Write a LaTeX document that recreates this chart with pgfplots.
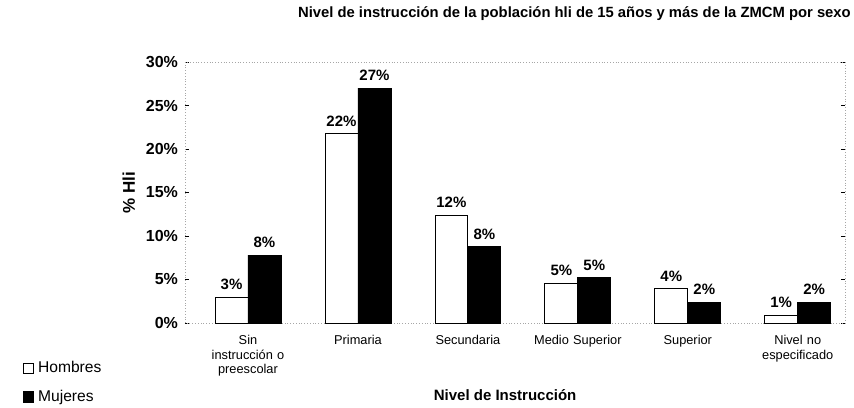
\documentclass[border=0pt]{standalone}
\usepackage{pgfplots}
\pgfplotsset{compat=1.18}
\usepackage{fontspec}
\setmainfont{Liberation Sans}
\begin{document}
\begin{tikzpicture}[x=1pt,y=1pt]
\useasboundingbox (-92.5,-42) rectangle (334.5,161.5);
\begin{axis}[
  at={(0,0)}, anchor=south west,
  scale only axis, width=330pt, height=130.5pt,
  xmin=-0.573, xmax=5.43, ymin=0, ymax=30,
  ybar=0pt, bar width=0.3,
  xtick={0,1,2,3,4,5},
  xticklabels={Sin\\instrucción o\\preescolar, Primaria, Secundaria, Medio Superior, Superior, Nivel no\\especificado},
  xticklabel style={font=\fontsize{6.4}{7.4}\selectfont, align=center, text width=58pt, yshift=-0.5pt},
  major x tick style={draw=none},
  ytick={0,5,...,30},
  yticklabel={\pgfmathprintnumber{\tick}\%},
  yticklabel style={font=\fontsize{8}{9}\selectfont\bfseries},
  /pgf/number format/assume math mode=true,
  ytick style={black, thin},
  major tick length=2pt,
  axis line style={densely dotted, gray!70, thin},
  ylabel={\% Hli}, ylabel style={font=\fontsize{8.5}{10}\selectfont\bfseries, at={(rel axis cs:-0.085,0.5)}, anchor=center},
  xlabel={Nivel de Instrucción}, xlabel style={font=\fontsize{7.5}{9}\selectfont\bfseries, at={(rel axis cs:0.485,-0.275)}, anchor=center},
  title={Nivel de instrucción de la población hli de 15 años y más de la ZMCM por sexo},
  title style={font=\fontsize{7.4}{9}\selectfont\bfseries, at={(rel axis cs:0.59,1.0)}, anchor=center, yshift=18pt},
  nodes near coords, point meta=explicit symbolic,
  every node near coord/.append style={font=\fontsize{7.5}{9}\selectfont\bfseries},
  legend style={at={(rel axis cs:-0.255,-0.115)}, anchor=north west, draw=none, fill=none, font=\fontsize{7.8}{9}\selectfont, row sep=3pt},
  legend cell align=left,
  legend image code/.code={\draw[#1, draw=black, thin] (0cm,-0.09cm) rectangle (0.18cm,0.09cm);},
  clip=false,
]
\addplot[draw=black, thin, fill=white] coordinates {(0,3.0)[3\%] (1,21.8)[22\%] (2,12.4)[12\%] (3,4.6)[5\%] (4,4.0)[4\%] (5,0.9)[1\%]};
\addplot[draw=black, thin, fill=black] coordinates {(0,7.8)[8\%] (1,27.0)[27\%] (2,8.8)[8\%] (3,5.2)[5\%] (4,2.4)[2\%] (5,2.4)[2\%]};
\legend{Hombres, Mujeres}
\end{axis}
\end{tikzpicture}
\end{document}
